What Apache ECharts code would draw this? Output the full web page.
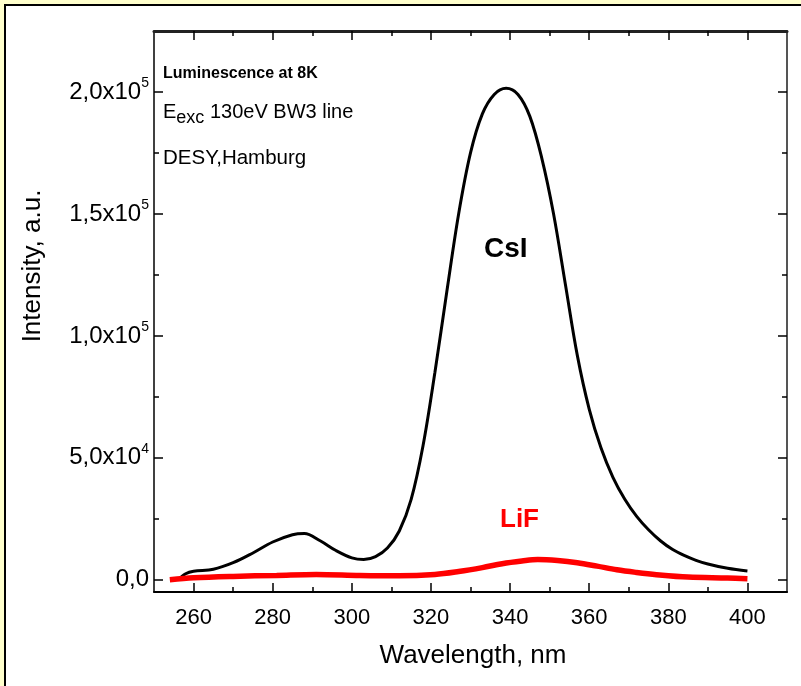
<!DOCTYPE html>
<html>
<head>
<meta charset="utf-8">
<script src="https://cdn.jsdelivr.net/npm/echarts@6/dist/echarts.min.js"></script>
<style>
html,body{margin:0;padding:0;background:#FFFFCC;}
#chart{width:801px;height:686px;}
</style>
</head>
<body>
<div id="chart"></div>
<script>
// ---- data ----
const csiWavelength = [256,258,260,265,270,275,280,285,288,292,296,300,303,306,309,312,315,318,321,324,327,330,333,336,339,342,345,348,351,354,357,360,363,366,369,372,375,378,381,384,387,390,395,400];
const csiIntensity  = [0,2500,3500,4300,7000,11000,15500,18500,19000,16000,12000,9000,8300,9500,13000,20000,33000,55000,85000,118000,150000,175000,191000,199000,201500,199000,190000,173000,150000,121000,92000,70000,54000,42000,33000,26000,20500,16000,12500,10000,8000,6500,4700,3600];
const lifWavelength = [254,260,270,281,291,302,312,321,327,333,338,343,347,352,357,362,367,372,377,385,395,400];
const lifIntensity  = [0,800,1400,1800,2200,1800,1650,2200,3400,5000,6600,7700,8300,7900,7000,5600,4100,3000,2100,1100,700,400];
const xMajorTicks = [260,280,300,320,340,360,380,400];
const xMinorTicks = [270,290,310,330,350,370,390];
const yMajorTicks = [0,50000,100000,150000,200000];
const yMinorTicks = [25000,75000,125000,175000];
const yTickMantissa = ['0,0','5,0x10','1,0x10','1,5x10','2,0x10'];
const yTickExponent = ['','4','5','5','5'];
const xTitle = 'Wavelength, nm';
const yTitle = 'Intensity, a.u.';
const csiLabel = 'CsI';
const lifLabel = 'LiF';
const noteLines = ['Luminescence at 8K', '130eV BW3 line', 'DESY,Hamburg'];

const FONT = "'Liberation Sans', Arial, sans-serif";
const chart = echarts.init(document.getElementById('chart'));

function pairs(xs, ys){ return xs.map((x,i)=>[x, ys[i]]); }

const XMIN=250, XMAX=410, YMIN=-5000, YMAX=225000;

function xAxisDef(pos, ticks, len, showLabel, line){
  return {
    type:'value', position:pos, min:XMIN, max:XMAX,
    splitLine:{show:false},
    axisLine:{show:line.show, onZero:false, lineStyle:{color:line.color||'#000', width:line.width||1.5}},
    axisTick:{show:true, inside:true, length:len, customValues:ticks, lineStyle:{color:'#000', width:1.5}},
    axisLabel:{show:showLabel, customValues:xMajorTicks, color:'#000', fontFamily:FONT, fontSize:22, margin:15},
  };
}
function yAxisDef(pos, ticks, len, showLabel, line){
  return {
    type:'value', position:pos, min:YMIN, max:YMAX,
    splitLine:{show:false},
    axisLine:{show:line.show, onZero:false, lineStyle:{color:line.color||'#000', width:line.width||1.5}},
    axisTick:{show:true, inside:true, length:len, customValues:ticks, lineStyle:{color:'#000', width:1.5}},
    axisLabel:{show:showLabel, customValues:yMajorTicks, margin:5,
      formatter:function(v){
        const i = yMajorTicks.indexOf(v);
        if(i<0) return '';
        return '{m|'+yTickMantissa[i]+'}' + (yTickExponent[i] ? '{e|'+yTickExponent[i]+'}' : '');
      },
      rich:{
        m:{fontFamily:FONT, fontSize:24, color:'#000'},
        e:{fontFamily:FONT, fontSize:14, color:'#000', padding:[0,0,17,0]}
      }
    },
  };
}

const option = {
  backgroundColor:'#FFFFCC',
  animation:false,
  grid:{left:154, right:14, top:31, bottom:94, containLabel:false},
  xAxis:[
    xAxisDef('bottom', xMajorTicks, 9, true, {show:true, width:2}),
    xAxisDef('bottom', xMinorTicks, 5, false, {show:false}),
    xAxisDef('top', xMajorTicks, 9, false, {show:true, width:3, color:'#222'}),
    xAxisDef('top', xMinorTicks, 5, false, {show:false}),
  ],
  yAxis:[
    yAxisDef('left', yMajorTicks, 9, true, {show:true, width:1.5}),
    yAxisDef('left', yMinorTicks, 5, false, {show:false}),
    yAxisDef('right', yMajorTicks, 9, false, {show:true, width:2, color:'#555'}),
    yAxisDef('right', yMinorTicks, 5, false, {show:false}),
  ],
  graphic:[
    {type:'rect', z:-10, silent:true, shape:{x:5, y:5, width:900, height:900},
     style:{fill:'#fff', stroke:'#000', lineWidth:2}},
    {type:'text', left:163, top:66, z:10, style:{text:noteLines[0], font:'bold 16px '+FONT, fill:'#000'}},
    {type:'text', left:163, top:102, z:10, style:{
      text:'{a|E}{b|exc}{a| '+noteLines[1]+'}',
      rich:{a:{fontFamily:FONT, fontSize:20, color:'#000'}, b:{fontFamily:FONT, fontSize:18, color:'#000', padding:[13,0,0,0]}}
    }},
    {type:'text', left:163, top:148, z:10, style:{text:noteLines[2], font:'20.5px '+FONT, fill:'#000'}},
    {type:'text', left:484, top:235, z:10, style:{text:csiLabel, font:'bold 28px '+FONT, fill:'#000'}},
    {type:'text', left:500, top:507, z:10, style:{text:lifLabel, font:'bold 26px '+FONT, fill:'#ff0000'}},
    {type:'text', x:473, y:656, z:10, style:{text:xTitle, font:'26px '+FONT, fill:'#000', align:'center', verticalAlign:'middle'}},
    {type:'text', x:33, y:266, rotation:Math.PI/2, z:10, style:{text:yTitle, font:'26px '+FONT, fill:'#000', align:'center', verticalAlign:'middle'}},
  ],
  series:[
    {type:'line', name:csiLabel, xAxisIndex:0, yAxisIndex:0, data:pairs(csiWavelength, csiIntensity),
     showSymbol:false, smooth:0.35, lineStyle:{color:'#000', width:3}, z:3},
    {type:'line', name:lifLabel, xAxisIndex:0, yAxisIndex:0, data:pairs(lifWavelength, lifIntensity),
     showSymbol:false, smooth:0.35, lineStyle:{color:'#ff0000', width:5.5}, z:4},
  ]
};
chart.setOption(option);
</script>
</body>
</html>
